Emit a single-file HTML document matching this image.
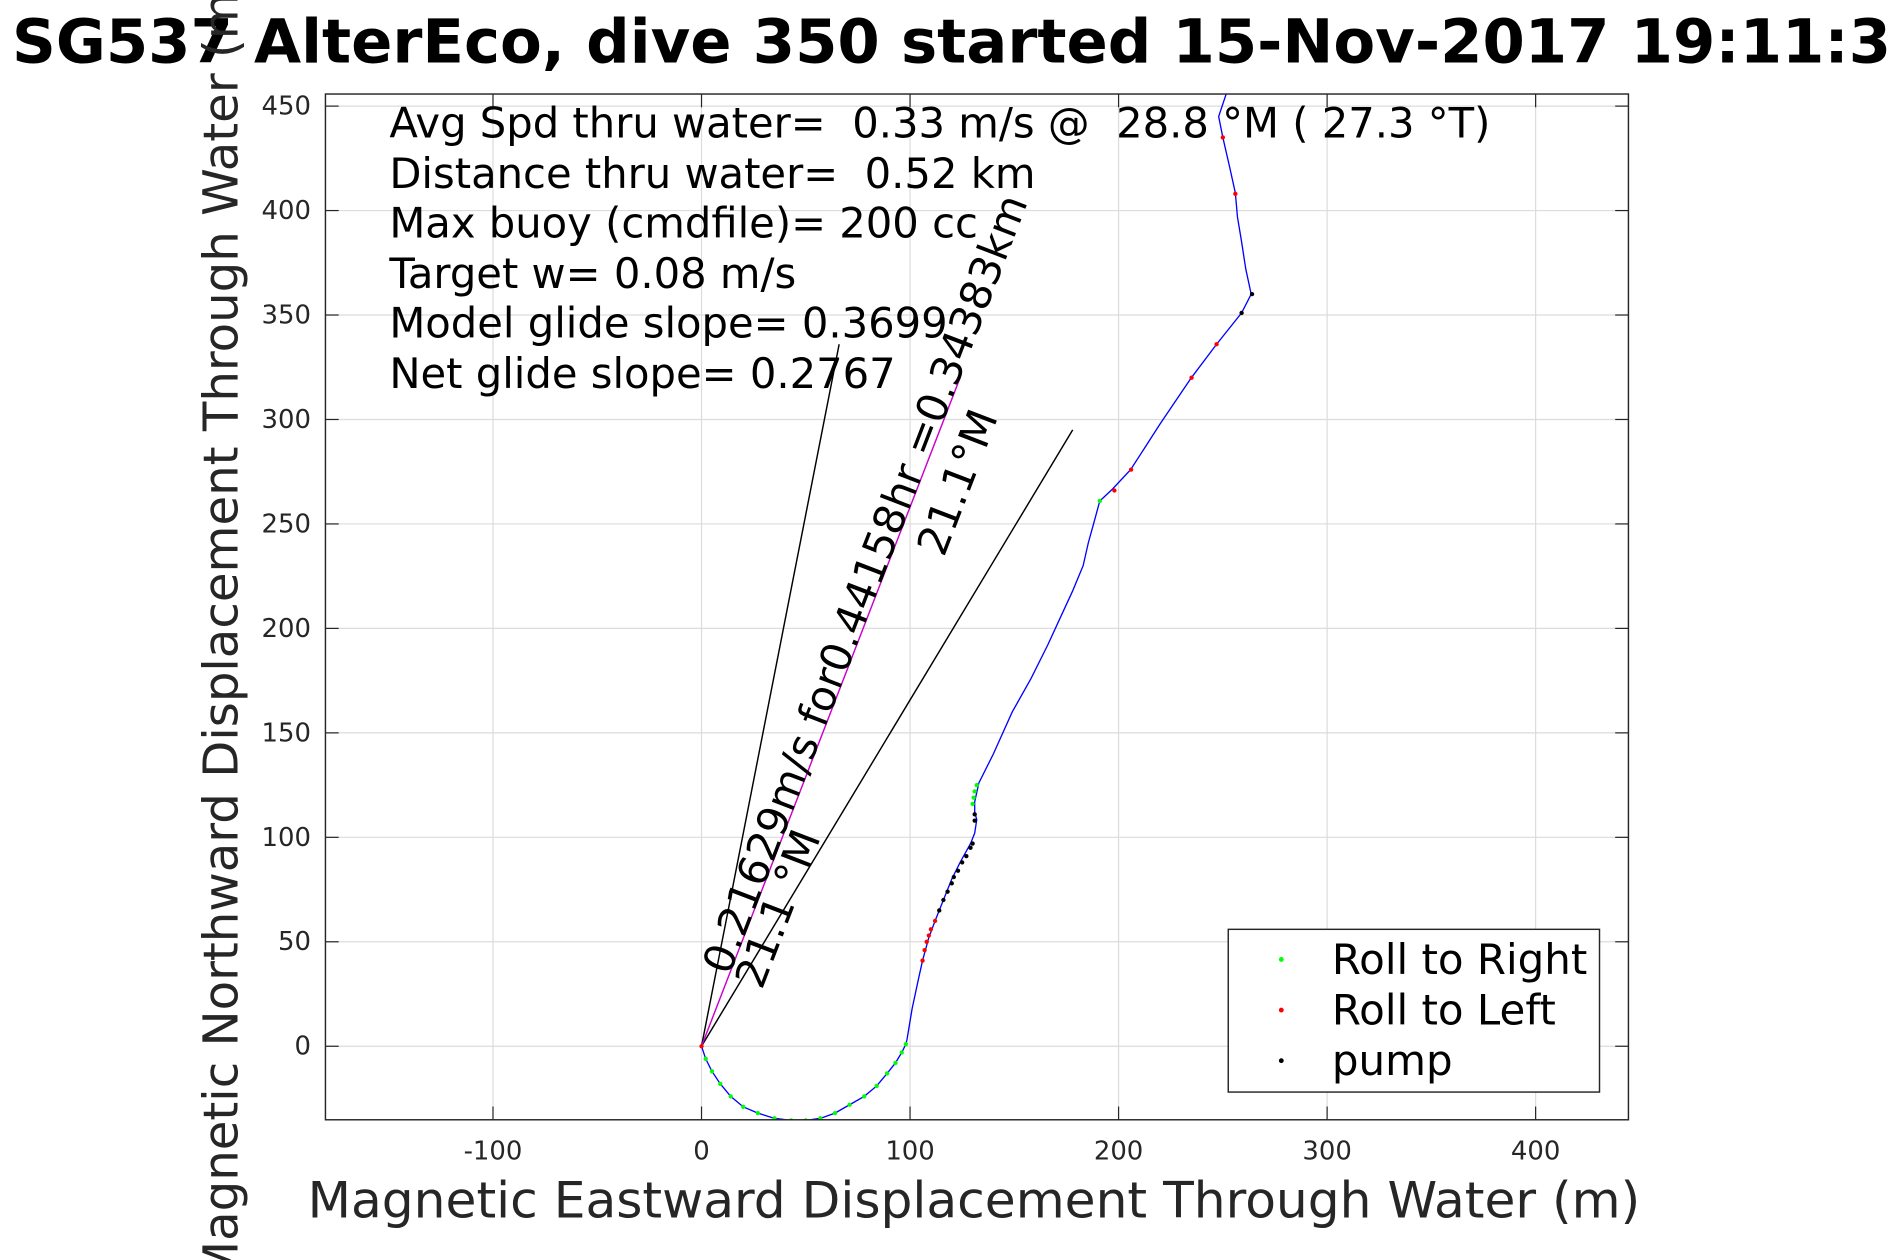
<!DOCTYPE html>
<html><head><meta charset="utf-8"><style>
html,body{margin:0;padding:0;background:#fff;width:1890px;height:1260px;overflow:hidden;}
svg{display:block;font-family:"DejaVu Sans","Liberation Sans",sans-serif;}
text{white-space:pre;}
</style></head><body>
<svg id="chart" width="1890" height="1260" viewBox="0 0 1568 1045.33" xmlns="http://www.w3.org/2000/svg" overflow="hidden">
<rect width="1568" height="1046" fill="#fff"/>
<text x="10" y="52" font-size="50.5" font-weight="bold" fill="#000">SG537 AlterEco, dive 350 started 15-Nov-2017 19:11:37</text>
<g id="grid"></g>
<g id="plot"></g>
<g id="axes"></g>
<text x="808" y="1010" font-size="41.7" text-anchor="middle" fill="#262626">Magnetic Eastward Displacement Through Water (m)</text>
<text transform="translate(197,521) rotate(-90)" font-size="40" text-anchor="middle" fill="#262626">Magnetic Northward Displacement Through Water (m)</text>
<g font-size="34.6" fill="#000">
<text x="323" y="114">Avg Spd thru water=  0.33 m/s @  28.8 °M ( 27.3 °T)</text>
<text x="323" y="156">Distance thru water=  0.52 km</text>
<text x="323" y="197">Max buoy (cmdfile)= 200 cc</text>
<text x="323" y="239">Target w= 0.08 m/s</text>
<text x="323" y="280">Model glide slope= 0.3699</text>
<text x="323" y="322">Net glide slope= 0.2767</text>
</g>
<g>
<rect x="1019" y="771" width="308" height="135" fill="#fff" stroke="#262626" stroke-width="1.2"/>
<circle cx="1063" cy="796" r="2" fill="#00ff00"/><text x="1105" y="808" font-size="34.8">Roll to Right</text>
<circle cx="1063" cy="838" r="2" fill="#ff0000"/><text x="1105" y="850" font-size="34.8">Roll to Left</text>
<circle cx="1063" cy="880" r="2" fill="#000"/><text x="1105" y="892" font-size="34.8">pump</text>
</g>
</svg>
<script>
const xTicks=[-100,0,100,200,300,400];
const yTicks=[0,50,100,150,200,250,300,350,400,450];
const trackX=[0,2,5,9,14,20,27,35,43,50,57,64,71,78,84,89,93,96,98,98.5,101,104,106,109,112,116,120,124,129,131,132,131,131,133,140,149,158,166,172,178,183,185.5,188,191,197,205.8,220,234.7,247,259,263.6,261,259,257,256,253,250,248,252];
const trackY=[0,-6,-12,-18,-24,-29,-32,-34.5,-35.5,-35.5,-34.5,-32,-28,-24,-19,-13,-8,-3,1,3,18,32,41,52,60,70,80,88,97,102,108.5,112,117,126,140,160,176,192,205,218,230,241,250,261,266.6,276,298,319.7,336,351,360,372,385,397,408.5,422,435,445,457];
const greenX=[2,5,9,14,20,27,35,43,50,57,64,71,78,84,89,93,96,98,130,130.5,131,132,191];
const greenY=[-6,-12,-18,-24,-29,-32,-34.5,-35.5,-35.5,-34.5,-32,-28,-24,-19,-13,-8,-3,1,116,119,122,125,261];
const redX=[0,106,107,108,109,110,112,198,206,235,247,250,256];
const redY=[0,41,46,50,53,56,60,266,276,320,336,435,408];
const pumpX=[114,116,118,120,121,123,125,127,129,130,131,131,259,264];
const pumpY=[65,70,74,78,81,84,88,91,95,97,108,111,351,360];
const headingLines=[[66,336],[178,295]];
const trackLineEnd=[124,320];
const L=270,R=1351,T=78,B=929;
const X0=582,Y0=868,SX=1.73,SY=1.7333;
const sx=v=>X0+v*SX, sy=v=>Y0-v*SY;
const NS="http://www.w3.org/2000/svg";
function mk(tag,attrs,parent){const e=document.createElementNS(NS,tag);for(const k in attrs)e.setAttribute(k,attrs[k]);parent.appendChild(e);return e;}
const grid=document.getElementById('grid'),plot=document.getElementById('plot'),axes=document.getElementById('axes');
xTicks.forEach(t=>{
  const g=mk('line',{x1:sx(t),x2:sx(t),y1:T,y2:B,stroke:'#dcdcdc','stroke-width':1},grid);
  
  
  mk('line',{x1:sx(t),x2:sx(t),y1:B,y2:B-11,stroke:'#262626'},axes);
  mk('line',{x1:sx(t),x2:sx(t),y1:T,y2:T+11,stroke:'#262626'},axes);
  const lb=mk('text',{x:sx(t),y:B+33,'font-size':21.5,'text-anchor':'middle',fill:'#262626'},axes);
  lb.textContent=t;
  
  
});
yTicks.forEach(t=>{
  const g=mk('line',{x1:L,x2:R,y1:sy(t),y2:sy(t),stroke:'#dcdcdc','stroke-width':1},grid);
  
  
  mk('line',{x1:L,x2:L+11,y1:sy(t),y2:sy(t),stroke:'#262626'},axes);
  mk('line',{x1:R,x2:R-11,y1:sy(t),y2:sy(t),stroke:'#262626'},axes);
  const lb=mk('text',{x:L-12,y:sy(t)+7,'font-size':21.5,'text-anchor':'end',fill:'#262626'},axes);
  lb.textContent=t;
  
  
});
const box=mk('rect',{x:L,y:T,width:R-L,height:B-T,fill:'none',stroke:'#262626','stroke-width':1.2},axes);


mk('clipPath',{id:'clip'},plot);
mk('rect',{x:L,y:T,width:R-L,height:B-T},plot.lastChild);
const pg=mk('g',{'clip-path':'url(#clip)'},plot);
headingLines.forEach(p=>{
  const l=mk('line',{x1:sx(0),y1:sy(0),x2:sx(p[0]),y2:sy(p[1]),stroke:'#000','stroke-width':1.2},pg);
  
  
});
const ml=mk('line',{x1:sx(0),y1:sy(0),x2:sx(trackLineEnd[0]),y2:sy(trackLineEnd[1]),stroke:'#cc00cc','stroke-width':1.2},pg);


const tr=mk('polyline',{points:trackX.map((x,i)=>sx(x)+','+sy(trackY[i])).join(' '),fill:'none',stroke:'#0000ff','stroke-width':1.1},pg);


function dots(xs,ys,c,n){xs.forEach((x,i)=>{const d=mk('circle',{cx:sx(x),cy:sy(ys[i]),r:1.8,fill:c},pg);
  
  });}
dots(greenX,greenY,'#00ff00','roll-right-point');
dots(redX,redY,'#ff0000','roll-left-point');
dots(pumpX,pumpY,'#000','pump-point');
function rtext(x,y,s,str,n){const t=mk('text',{transform:`translate(${x},${y}) rotate(-68.9)`,'font-size':s,fill:'#000'},pg);t.textContent=str;
  
  }
rtext(605,810,35,'0.21629m/s for0.44158hr =0.34383km','track-annotation');
rtext(632,822,35,'21.1 °M','heading-label-lower');
rtext(783,463,35,'21.1°M','heading-label-upper');
</script>
</body></html>
